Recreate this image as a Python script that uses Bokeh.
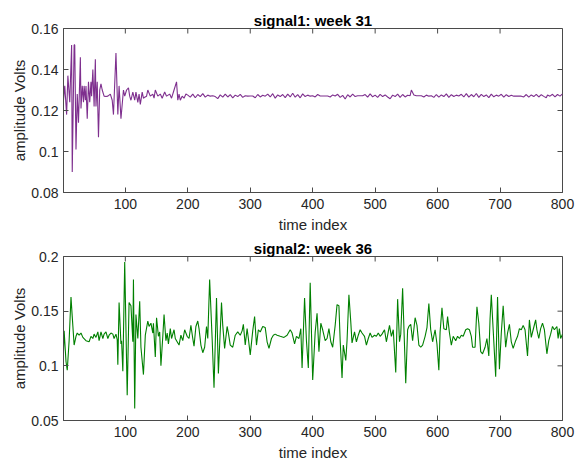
import math
from bokeh.plotting import figure
from bokeh.layouts import column
from bokeh.models import Range1d, FixedTicker
from bokeh.embed import file_html
from bokeh.resources import INLINE

# ---- signal 1 (week 31) ----
t1 = [1, 3, 6, 8, 11, 14, 15, 18, 19, 21, 23, 25, 28, 29, 31, 33, 34, 36, 37, 39,
      41, 43, 45, 46, 48, 50, 52, 53, 55, 57, 59, 61, 63, 66, 69, 72, 76, 79, 81, 85,
      88, 90, 93, 97, 99, 102, 105, 107, 109, 112, 115, 117, 120, 122, 124, 127, 129, 131, 134, 136,
      140, 144, 146, 148, 152, 156, 159, 163, 166, 171, 174, 178, 182, 184, 186, 188, 191, 194, 197,
      200, 204, 208, 212, 216, 220, 224, 228, 232, 236, 240, 244, 248, 252, 256, 260, 264, 268, 272, 276,
      280, 284, 288, 292, 296, 300, 304, 308, 312, 316, 320, 324, 328, 332, 336, 340, 344, 348, 352, 356,
      360, 364, 368, 372, 376, 380, 384, 388, 392, 396, 400, 404, 408, 412, 416, 420, 424, 428, 432, 436,
      440, 444, 448, 452, 456, 460, 464, 468, 472, 476, 480, 484, 488, 492, 496, 500, 504, 508, 512, 516,
      520, 524, 528, 532, 536, 540, 544, 548, 552, 556, 558, 562, 566, 570, 574, 578, 582, 586, 590, 594,
      598, 602, 606, 610, 614, 618, 622, 626, 630, 634, 638, 642, 646, 650, 654, 658, 662, 666, 670, 674,
      678, 682, 686, 690, 694, 698, 702, 706, 710, 714, 718, 722, 726, 730, 734, 738, 742, 746, 750, 754,
      758, 762, 766, 770, 774, 776, 780, 784, 788, 792, 796, 800]
v1 = [0.125, 0.132, 0.118, 0.137, 0.124, 0.152, 0.090, 0.152, 0.152, 0.101, 0.128, 0.114, 0.146, 0.121, 0.132, 0.124, 0.132, 0.125, 0.132, 0.116,
      0.134, 0.124, 0.134, 0.127, 0.140, 0.122, 0.145, 0.122, 0.134, 0.107, 0.130, 0.133, 0.130, 0.127, 0.1268, 0.127, 0.128, 0.125, 0.118, 0.148,
      0.118, 0.132, 0.116, 0.130, 0.127, 0.130, 0.131, 0.127, 0.125, 0.129, 0.125, 0.129, 0.124, 0.128, 0.123, 0.129, 0.126, 0.1265, 0.127, 0.130,
      0.127, 0.128, 0.126, 0.130, 0.127, 0.128, 0.126, 0.129, 0.127, 0.128, 0.126, 0.130, 0.134, 0.125, 0.128, 0.125, 0.127, 0.126, 0.128,
      0.1275, 0.1265, 0.1280, 0.1262, 0.1278, 0.1268, 0.1282, 0.1265, 0.1275, 0.1270, 0.1272, 0.1268, 0.1258, 0.1276, 0.1265, 0.1280, 0.1266, 0.1277, 0.1262, 0.1275,
      0.1268, 0.1279, 0.1264, 0.1272, 0.1270, 0.1271, 0.1271, 0.1262, 0.1278, 0.1266, 0.1274, 0.1270, 0.1280, 0.1266, 0.1282, 0.1260, 0.1276, 0.1268, 0.1278, 0.1263,
      0.1280, 0.1266, 0.1284, 0.1265, 0.1277, 0.1262, 0.1281, 0.1268, 0.1275, 0.1270, 0.1272, 0.1266, 0.1278, 0.1271, 0.1271, 0.1271, 0.1271, 0.1266, 0.1276, 0.1271,
      0.1279, 0.1264, 0.1274, 0.1256, 0.1277, 0.1266, 0.1280, 0.1268, 0.1272, 0.1272, 0.1272, 0.1278, 0.1265, 0.1281, 0.1267, 0.1275, 0.1264, 0.1279, 0.1268, 0.1276,
      0.1266, 0.1257, 0.1275, 0.1268, 0.1280, 0.1264, 0.1278, 0.1266, 0.1274, 0.1272, 0.1300, 0.1276, 0.1272, 0.1272, 0.1272, 0.1266, 0.1275, 0.1270, 0.1272, 0.1264,
      0.1278, 0.1265, 0.1276, 0.1268, 0.1281, 0.1264, 0.1277, 0.1268, 0.1275, 0.1271, 0.1279, 0.1266, 0.1282, 0.1265, 0.1278, 0.1267, 0.1283, 0.1264, 0.1279, 0.1268,
      0.1276, 0.1263, 0.1280, 0.1267, 0.1275, 0.1270, 0.1279, 0.1265, 0.1277, 0.1268, 0.1274, 0.1270, 0.1270, 0.1270, 0.1270, 0.1266, 0.1278, 0.1265, 0.1276, 0.1268,
      0.1279, 0.1266, 0.1277, 0.1269, 0.1262, 0.1276, 0.1270, 0.1279, 0.1266, 0.1278, 0.1270, 0.1281]

# ---- signal 2 (week 36) ----
t2 = [1, 2, 5, 7, 10, 13, 15, 18, 21, 23, 26, 29, 32, 37, 42, 45, 48, 50, 53, 56,
      58, 61, 64, 66, 69, 72, 74, 77, 80, 82, 85, 87, 88, 90, 93, 94, 96, 99, 103, 106,
      109, 112, 113, 115, 117, 120, 123, 125, 129, 132, 136, 138, 141, 144, 145, 148, 150, 153, 155, 157,
      160, 162, 165, 167, 169, 172, 174, 178, 180, 182, 186, 189, 192, 195, 199, 202, 205, 208, 210, 213,
      216, 218, 221, 224, 227, 230, 232, 235, 239, 242, 246, 249, 254, 256, 259, 263, 265, 268, 272, 276,
      280, 284, 287, 289, 292, 295, 297, 300, 304, 307, 310, 313, 316, 320, 324, 327, 330, 334, 337, 340,
      343, 348, 354, 359, 364, 367, 371, 374, 378, 381, 383, 387, 390, 393, 396, 400, 404, 407, 410, 413,
      416, 420, 423, 426, 429, 432, 436, 439, 442, 444, 447, 449, 453, 455, 458, 461, 463, 467, 470, 473,
      476, 479, 483, 486, 489, 492, 495, 499, 502, 505, 508, 511, 515, 518, 521, 523, 526, 529, 533, 536,
      539, 541, 544, 549, 552, 554, 557, 560, 564, 567, 570, 573, 576, 580, 583, 586, 589, 592, 596, 599,
      602, 604, 607, 610, 614, 616, 619, 622, 625, 629, 632, 635, 638, 641, 645, 648, 651, 654, 656, 660,
      663, 666, 669, 672, 676, 679, 682, 684, 686, 689, 693, 696, 699, 702, 705, 709, 712, 715, 718, 721,
      725, 728, 731, 734, 737, 740, 744, 747, 750, 753, 757, 759, 762, 765, 768, 771, 775, 778, 781, 784,
      787, 791, 793, 795, 797, 800]
v2 = [0.114, 0.132, 0.104, 0.096, 0.123, 0.163, 0.145, 0.119, 0.127, 0.130, 0.128, 0.130, 0.126, 0.123, 0.122, 0.127, 0.125, 0.129, 0.126, 0.131,
      0.123, 0.131, 0.125, 0.129, 0.131, 0.125, 0.128, 0.130, 0.129, 0.125, 0.129, 0.124, 0.101, 0.158, 0.120, 0.123, 0.095, 0.195, 0.073, 0.158,
      0.155, 0.122, 0.179, 0.061, 0.147, 0.125, 0.159, 0.117, 0.092, 0.128, 0.141, 0.136, 0.139, 0.130, 0.139, 0.108, 0.144, 0.127, 0.131, 0.100,
      0.127, 0.147, 0.123, 0.130, 0.120, 0.134, 0.125, 0.133, 0.125, 0.123, 0.119, 0.128, 0.123, 0.133, 0.127, 0.125, 0.137, 0.125, 0.118, 0.136,
      0.141, 0.134, 0.119, 0.112, 0.117, 0.136, 0.125, 0.179, 0.125, 0.080, 0.162, 0.093, 0.158, 0.137, 0.116, 0.136, 0.130, 0.119, 0.117, 0.128,
      0.131, 0.128, 0.132, 0.138, 0.119, 0.134, 0.125, 0.110, 0.132, 0.145, 0.119, 0.133, 0.131, 0.136, 0.135, 0.122, 0.116, 0.125, 0.128, 0.129,
      0.128, 0.127, 0.126, 0.128, 0.133, 0.130, 0.120, 0.127, 0.125, 0.134, 0.098, 0.162, 0.123, 0.098, 0.176, 0.087, 0.131, 0.148, 0.113, 0.139,
      0.133, 0.123, 0.125, 0.134, 0.122, 0.117, 0.137, 0.156, 0.155, 0.123, 0.089, 0.119, 0.105, 0.123, 0.165, 0.140, 0.121, 0.131, 0.122, 0.128,
      0.133, 0.130, 0.127, 0.119, 0.125, 0.130, 0.126, 0.128, 0.127, 0.130, 0.127, 0.129, 0.133, 0.122, 0.131, 0.137, 0.127, 0.133, 0.094, 0.161,
      0.122, 0.129, 0.171, 0.084, 0.133, 0.136, 0.138, 0.123, 0.144, 0.137, 0.119, 0.117, 0.119, 0.127, 0.135, 0.157, 0.133, 0.122, 0.133, 0.120,
      0.096, 0.131, 0.153, 0.134, 0.133, 0.145, 0.130, 0.119, 0.127, 0.123, 0.127, 0.125, 0.128, 0.127, 0.133, 0.134, 0.133, 0.127, 0.117, 0.117,
      0.154, 0.139, 0.113, 0.111, 0.117, 0.125, 0.109, 0.143, 0.165, 0.133, 0.090, 0.163, 0.097, 0.130, 0.155, 0.117, 0.130, 0.138, 0.122, 0.116,
      0.123, 0.127, 0.134, 0.133, 0.137, 0.133, 0.109, 0.142, 0.126, 0.133, 0.142, 0.133, 0.125, 0.134, 0.139, 0.133, 0.111, 0.123, 0.129, 0.136,
      0.133, 0.136, 0.125, 0.134, 0.125, 0.129]

x_ticks = [100, 200, 300, 400, 500, 600, 700, 800]
y1_ticks = [0.08, 0.1, 0.12, 0.14, 0.16]
y1_labels = ["0.08", "0.1", "0.12", "0.14", "0.16"]
y2_ticks = [0.05, 0.1, 0.15, 0.2]
y2_labels = ["0.05", "0.1", "0.15", "0.2"]

X_RANGE = (1, 800)
FONT = "Liberation Sans"
AX = "#4a4a4a"
TXT = "#262626"


def style_axis(ax, ticks, labels):
    ax.ticker = FixedTicker(ticks=ticks)
    ax.major_tick_in = 5
    ax.major_tick_out = 0
    ax.minor_tick_line_color = None
    ax.axis_line_color = AX
    ax.major_tick_line_color = AX
    ax.major_label_text_font = FONT
    ax.major_label_text_color = TXT
    ax.major_label_text_font_size = "14px"
    ax.axis_label_text_font = FONT
    ax.axis_label_text_color = TXT
    ax.axis_label_text_font_style = "normal"
    ax.axis_label_text_font_size = "15px"
    if labels is not None:
        ax.major_label_overrides = {t: l for t, l in zip(ticks, labels)}


def make_fig(t, v, color, title, yr, yticks, ylabels, h, top, bottom):
    p = figure(width=583, height=h, x_range=Range1d(*X_RANGE), y_range=Range1d(*yr),
               output_backend="svg", toolbar_location=None,
               min_border_left=63, min_border_right=21,
               min_border_top=top, min_border_bottom=bottom)
    p.grid.visible = False
    p.outline_line_color = AX
    p.background_fill_color = "white"
    p.border_fill_color = "white"
    p.title.text = title
    p.title.align = "center"
    p.title.text_font = FONT
    p.title.text_font_size = "15px"
    p.title.text_font_style = "bold"
    p.title.text_color = "black"
    p.title.standoff = 0
    p.title.offset = 0
    style_axis(p.xaxis[0], x_ticks, None)
    p.xaxis[0].axis_label = "time index"
    p.xaxis[0].axis_label_standoff = 4
    p.xaxis[0].major_label_standoff = 6
    style_axis(p.yaxis[0], yticks, ylabels)
    p.yaxis[0].axis_label = "amplitude Volts"
    p.yaxis[0].axis_label_standoff = 0
    p.yaxis[0].major_label_standoff = 5
    # inward ticks on the top and right edges of the box
    p.ray(x=x_ticks, y=[yr[1]] * len(x_ticks), length=5, length_units="screen",
          angle=-math.pi / 2, line_color=AX, line_width=1)
    p.ray(x=[X_RANGE[1]] * len(yticks), y=yticks, length=5, length_units="screen",
          angle=math.pi, line_color=AX, line_width=1)
    p.line(t, v, line_color=color, line_width=1.1)
    return p


p1 = make_fig(t1, v1, "#7E2F8E", "signal1: week 31", (0.08, 0.16), y1_ticks, y1_labels, 235, 28, 38)
p2 = make_fig(t2, v2, "#008000", "signal2: week 36", (0.05, 0.2), y2_ticks, y2_labels, 228, 21, 42)

layout = column(p1, p2, spacing=0)
open("out.html", "w").write(file_html(layout, INLINE))
